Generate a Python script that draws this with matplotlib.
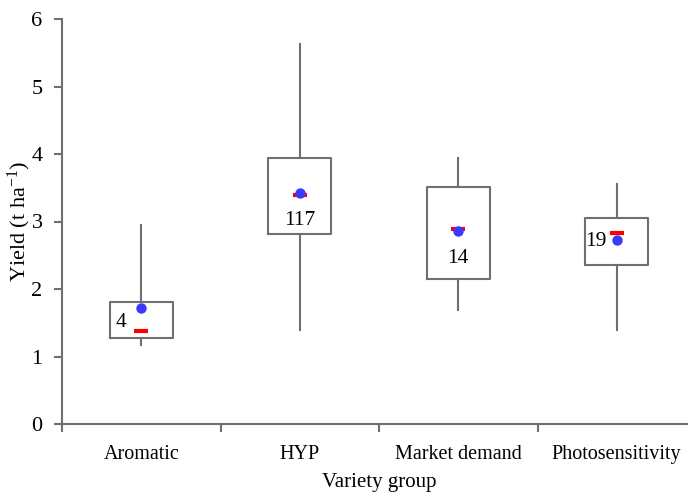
import matplotlib
matplotlib.use("Agg")
import matplotlib.pyplot as plt

plt.rcParams['font.family'] = ['Liberation Serif', 'DejaVu Serif']
plt.rcParams['mathtext.fontset'] = 'custom'
plt.rcParams['mathtext.rm'] = 'Liberation Serif'
plt.rcParams['mathtext.it'] = 'Liberation Serif:italic'

categories = ["Aromatic", "HYP", "Market demand", "Photosensitivity"]
whisker_low = [1.17, 1.39, 1.69, 1.39]
q1 = [1.27, 2.81, 2.15, 2.36]
medians = [1.38, 3.39, 2.89, 2.83]
q3 = [1.81, 3.94, 3.51, 3.05]
whisker_high = [2.95, 5.63, 3.94, 3.56]
means = [1.72, 3.42, 2.86, 2.73]
counts = ["4", "117", "14", "19"]
count_x = [-0.13, 1.0, 2.0, 2.87]
count_y = [1.51, 3.02, 2.45, 2.70]

fig = plt.figure(figsize=(6.88, 4.95), dpi=100)
ax = fig.add_axes([62/688, 71/495, 634/688, 405/495])

positions = list(range(len(categories)))
stats = []
for i in positions:
    stats.append(dict(whislo=whisker_low[i], q1=q1[i], med=medians[i],
                      q3=q3[i], whishi=whisker_high[i], mean=means[i], fliers=[]))

gray = '#6f6f6f'
ax.bxp(stats, positions=positions, widths=0.40, showcaps=False, showfliers=False,
       showmeans=False, patch_artist=False,
       boxprops=dict(color=gray, linewidth=1.5),
       whiskerprops=dict(color=gray, linewidth=1.5),
       medianprops=dict(visible=False))

ax.plot(positions, medians, linestyle='none', marker='_', markersize=10,
        markeredgewidth=3, color='#ff0000', zorder=3)
ax.plot(positions, means, linestyle='none', marker='o', markersize=7.5,
        color='#3a3aff', markeredgewidth=0, zorder=4)

for x, y, t in zip(count_x, count_y, counts):
    ax.text(x, y, t, ha='center', va='center', fontsize=15.5)

ax.set_xlim(-0.5, 3.5)
ax.set_ylim(0, 6)
ax.set_yticks(range(0, 7))
ax.set_xticks([-0.5, 0.5, 1.5, 2.5, 3.5])
ax.set_xticklabels([])
ax.set_xticks(positions, minor=True)
ax.set_xticklabels(categories, minor=True)
ax.tick_params(axis='x', which='minor', length=0, pad=15, labelsize=14.5)
ax.tick_params(axis='x', which='major', length=6, width=1.5, color=gray, direction='out')
ax.tick_params(axis='y', length=6, width=1.5, color=gray, direction='out', labelsize=16, pad=8)

for s in ['top', 'right']:
    ax.spines[s].set_visible(False)
for s in ['left', 'bottom']:
    ax.spines[s].set_color(gray)
    ax.spines[s].set_linewidth(1.5)

fig.text(19/688, 1 - 222/495, 'Yield (t ha$^{-1}$)', rotation=90,
         ha='center', va='center', fontsize=16)
fig.text(379/688, 1 - 482/495, 'Variety group', ha='center', va='center', fontsize=15)

fig.savefig('out.png', dpi=100)
